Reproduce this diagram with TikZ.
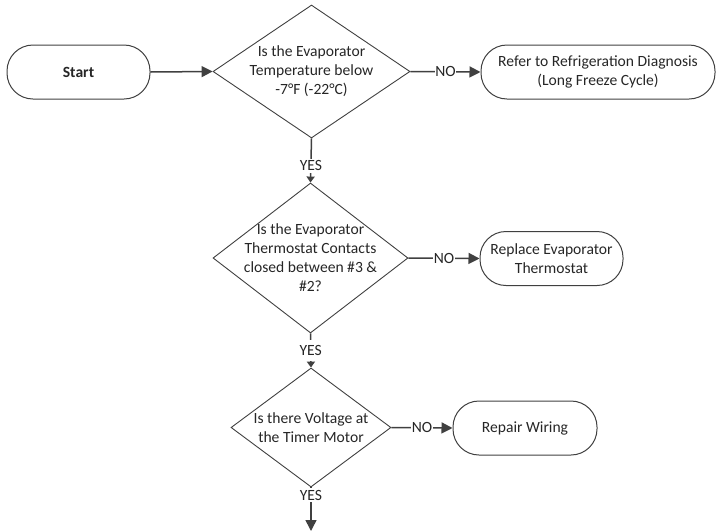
\documentclass[tikz,border=0pt]{standalone}
\usepackage{fontspec}
\setmainfont{Carlito}
\usetikzlibrary{shapes.geometric,arrows.meta}
\definecolor{ink}{HTML}{262626}
\definecolor{edge}{HTML}{404040}
\begin{document}
\begin{tikzpicture}[x=1pt,y=-1pt,
  every node/.style={font=\fontsize{15.6}{19}\selectfont, text=ink},
  terminal/.style={draw=edge, line width=1pt, rectangle, rounded corners=26pt,
    minimum height=54pt, inner sep=0pt, align=center},
  decision/.style={draw=edge, line width=0.9pt, diamond, inner sep=0pt},
  qtext/.style={align=center, inner sep=0pt},
  flow/.style={draw=edge, line width=1.5pt, -{Triangle[length=11pt,width=11pt]}},
  smallflow/.style={draw=edge, line width=1.5pt, -{Triangle[length=6pt,width=8pt]}},
  tag/.style={fill=white, inner sep=0.5pt}
]
\useasboundingbox (0,0) rectangle (718,531);

% terminals
\node[terminal, minimum width=143pt, font=\fontsize{15.6}{19}\selectfont\bfseries]
  (start) at (78.5,72) {Start};
\node[terminal, minimum width=234pt] (r1) at (598,72)
  {Refer to Refrigeration Diagnosis\\(Long Freeze Cycle)};
\node[terminal, minimum width=143pt] (r2) at (551.5,258.5)
  {Replace Evaporator\\Thermostat};
\node[terminal, minimum width=144pt] (r3) at (525,428) {Repair Wiring};

% decisions
\node[decision, minimum width=197pt, minimum height=133pt] (q1) at (311.5,71.5) {};
\node[qtext] (q1t) at (q1.center) {Is the Evaporator\\Temperature below\\-7°F (-22°C)};
\node[decision, minimum width=195pt, minimum height=150pt] (q2) at (310.5,258) {};
\node[qtext] (q2t) at (q2.center) {Is the Evaporator\\Thermostat Contacts\\closed between \#3 \&\\\#2?};
\node[decision, minimum width=160pt, minimum height=119pt] (q3) at (311,427.5) {};
\node[qtext] (q3t) at (q3.center) {Is there Voltage at\\the Timer Motor};

\coordinate (out) at (311,531);

% connectors
\draw[flow] (start.east) -- (q1.west);
\draw[flow] (q1.east) -- node[tag] {NO} (r1.west);
\draw[smallflow] (q1.south) -- node[tag, pos=0.62, inner sep=2pt] {YES} (q2.north);
\draw[flow] (q2.east) -- node[tag] {NO} (r2.west);
\draw[smallflow] (q2.south) -- node[tag, inner sep=5pt] {YES} (q3.north);
\draw[flow] (q3.east) -- node[tag] {NO} (r3.west);
\draw[flow] (q3.south) -- node[tag, pos=0.18, inner sep=2pt] {YES} (out);
\end{tikzpicture}
\end{document}
